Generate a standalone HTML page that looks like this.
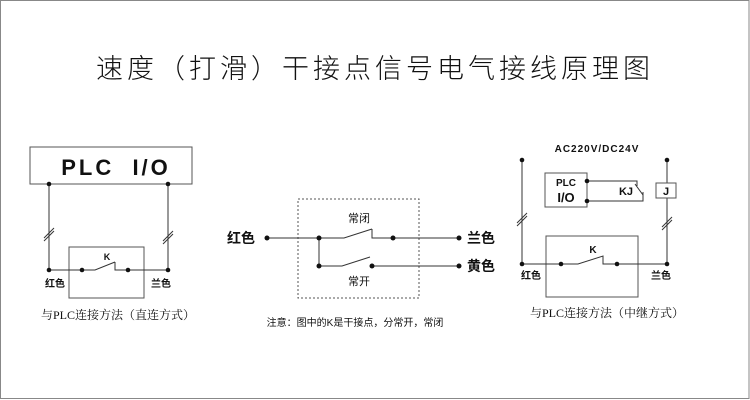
<!DOCTYPE html>
<html><head><meta charset="utf-8"><style>
html,body{margin:0;padding:0;background:#fff}
svg{display:block}
text{font-family:"Liberation Sans","Noto Sans CJK SC",sans-serif;fill:#111}
</style></head><body>
<svg width="750" height="400" viewBox="0 0 750 400" xmlns="http://www.w3.org/2000/svg">
<rect x="0.5" y="0.5" width="748.5" height="398" fill="#fff" stroke="#888" stroke-width="1"/>
<text x="375" y="78" text-anchor="middle" font-size="27" letter-spacing="4" fill="#1a1a1a" style="font-family:'Noto Sans CJK SC',sans-serif;font-weight:300">速度（打滑）干接点信号电气接线原理图</text>

<g stroke="#333" stroke-width="1" fill="none">
<rect x="30" y="147" width="162" height="37" stroke="#555"/>
<line x1="49" y1="184" x2="49" y2="270"/>
<line x1="168" y1="184" x2="168" y2="270"/>
<line x1="44" y1="238" x2="54" y2="228"/><line x1="44" y1="241" x2="54" y2="231"/>
<line x1="163" y1="241" x2="173" y2="231"/><line x1="163" y1="244" x2="173" y2="234"/>
<rect x="69" y="247" width="75" height="51" stroke="#555"/>
<polyline points="49,270 95,270 115,262"/>
<polyline points="115,262 115,270 168,270"/>
<rect x="298" y="199" width="121" height="99" stroke="#555" stroke-dasharray="2,2"/>
<polyline points="267,238 344,238 372,229"/>
<polyline points="372,229 372,238 459,238"/>
<polyline points="319,238 319,266 342,266 370,257"/>
<line x1="372" y1="266" x2="459" y2="266"/>
<line x1="522" y1="160" x2="522" y2="264"/>
<line x1="667" y1="160" x2="667" y2="183"/>
<line x1="667" y1="198" x2="667" y2="264"/>
<line x1="517" y1="223" x2="527" y2="213"/><line x1="517" y1="226" x2="527" y2="216"/>
<line x1="662" y1="227" x2="672" y2="217"/><line x1="662" y1="230" x2="672" y2="220"/>
<rect x="545" y="173" width="42" height="34" stroke="#555"/>
<rect x="656" y="183" width="20" height="15" stroke="#555"/>
<polyline points="587,181 637,181 637,186"/>
<polyline points="587,201 643,201 643,192"/>
<line x1="635" y1="184" x2="643" y2="195"/>
<rect x="546" y="236" width="92" height="61" stroke="#555"/>
<polyline points="522,264 578,264 603,256 603,264 667,264"/>
</g>

<g fill="#111">
<circle cx="49" cy="184" r="2.3"/><circle cx="168" cy="184" r="2.3"/>
<circle cx="49" cy="270" r="2.3"/><circle cx="82" cy="270" r="2.3"/><circle cx="128" cy="270" r="2.3"/><circle cx="168" cy="270" r="2.3"/>
<circle cx="267" cy="238" r="2.5"/><circle cx="319" cy="238" r="2.5"/><circle cx="393" cy="238" r="2.5"/><circle cx="459" cy="238" r="2.5"/>
<circle cx="319" cy="266" r="2.5"/><circle cx="372" cy="266" r="2.5"/><circle cx="459" cy="266" r="2.5"/>
<circle cx="522" cy="160" r="2.3"/><circle cx="667" cy="160" r="2.3"/>
<circle cx="587" cy="181" r="2.3"/><circle cx="587" cy="201" r="2.3"/>
<circle cx="522" cy="264" r="2.3"/><circle cx="561" cy="264" r="2.3"/><circle cx="617" cy="264" r="2.3"/><circle cx="667" cy="264" r="2.3"/>
</g>

<text x="116" y="175" text-anchor="middle" font-size="22" font-weight="bold" letter-spacing="3" xml:space="preserve">PLC  I/O</text>
<text x="107" y="260" text-anchor="middle" font-size="9" font-weight="bold">K</text>
<text x="55" y="287" text-anchor="middle" font-size="10" font-weight="bold">红色</text>
<text x="161" y="287" text-anchor="middle" font-size="10" font-weight="bold">兰色</text>
<text x="118" y="319" text-anchor="middle" font-size="12" style="font-family:'Liberation Serif','Noto Serif CJK SC',serif">与PLC连接方法（直连方式）</text>

<text x="241" y="243" text-anchor="middle" font-size="14" font-weight="bold">红色</text>
<text x="481" y="243" text-anchor="middle" font-size="14" font-weight="bold">兰色</text>
<text x="481" y="271" text-anchor="middle" font-size="14" font-weight="bold">黄色</text>
<text x="359" y="222" text-anchor="middle" font-size="11" fill="#555">常闭</text>
<text x="359" y="285" text-anchor="middle" font-size="11" fill="#555">常开</text>
<text x="355" y="326" text-anchor="middle" font-size="10">注意：图中的K是干接点，分常开，常闭</text>

<text x="597" y="152" text-anchor="middle" font-size="10" font-weight="bold" letter-spacing="1">AC220V/DC24V</text>
<text x="566" y="186" text-anchor="middle" font-size="10" font-weight="bold">PLC</text>
<text x="566" y="202" text-anchor="middle" font-size="13" font-weight="bold">I/O</text>
<text x="626" y="195" text-anchor="middle" font-size="11" font-weight="bold">KJ</text>
<text x="666" y="195" text-anchor="middle" font-size="11" font-weight="bold">J</text>
<text x="593" y="253" text-anchor="middle" font-size="10" font-weight="bold">K</text>
<text x="531" y="279" text-anchor="middle" font-size="10" font-weight="bold">红色</text>
<text x="661" y="279" text-anchor="middle" font-size="10" font-weight="bold">兰色</text>
<text x="607" y="317" text-anchor="middle" font-size="12" style="font-family:'Liberation Serif','Noto Serif CJK SC',serif">与PLC连接方法（中继方式）</text>
</svg>
</body></html>
